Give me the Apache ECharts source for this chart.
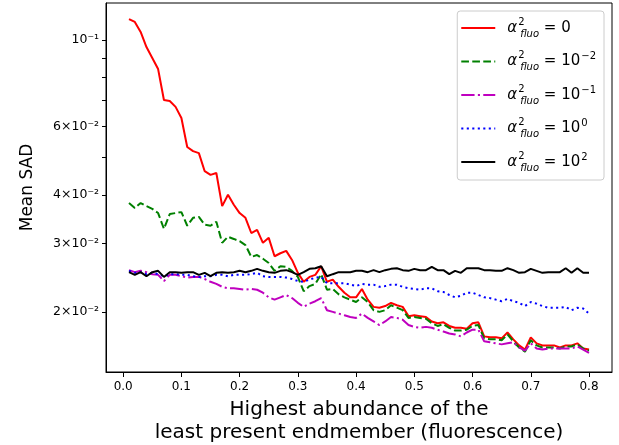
<!DOCTYPE html>
<html>
<head>
<meta charset="utf-8">
<script src="https://cdn.jsdelivr.net/npm/echarts@6/dist/echarts.min.js"></script>
<style>
  html, body { margin: 0; padding: 0; background: #fff; }
  #chart { width: 619px; height: 445px; }
</style>
</head>
<body>
<div id="chart"></div>
<script>
// abscissa: highest abundance of the least present endmember
const abundance = [
  0.01, 0.02, 0.03, 0.04, 0.05, 0.06, 0.07, 0.08, 0.09, 0.10,
  0.11, 0.12, 0.13, 0.14, 0.15, 0.16, 0.17, 0.18, 0.19, 0.20,
  0.21, 0.22, 0.23, 0.24, 0.25, 0.26, 0.27, 0.28, 0.29, 0.30,
  0.31, 0.32, 0.33, 0.34, 0.35, 0.36, 0.37, 0.38, 0.39, 0.40,
  0.41, 0.42, 0.43, 0.44, 0.45, 0.46, 0.47, 0.48, 0.49, 0.50,
  0.51, 0.52, 0.53, 0.54, 0.55, 0.56, 0.57, 0.58, 0.59, 0.60,
  0.61, 0.62, 0.63, 0.64, 0.65, 0.66, 0.67, 0.68, 0.69, 0.70,
  0.71, 0.72, 0.73, 0.74, 0.75, 0.76, 0.77, 0.78, 0.79, 0.80
];

// mean SAD, one array per alpha value
const sadAlpha0 = [
  0.1132, 0.1113, 0.1049, 0.0959, 0.0899, 0.0842, 0.0701, 0.0697, 0.0673, 0.0630,
  0.0531, 0.0518, 0.0512, 0.0460, 0.0450, 0.0455, 0.0374, 0.0400, 0.0377, 0.0359,
  0.0349, 0.0319, 0.0325, 0.0301, 0.0310, 0.0278, 0.0283, 0.0287, 0.0272, 0.0252,
  0.0239, 0.0246, 0.0249, 0.0262, 0.0239, 0.0242, 0.0232, 0.0224, 0.0218, 0.0218,
  0.0229, 0.0215, 0.0206, 0.0205, 0.0207, 0.0211, 0.0208, 0.0206, 0.0195, 0.0196,
  0.0195, 0.0194, 0.0189, 0.0187, 0.0188, 0.0184, 0.0182, 0.0182, 0.0181, 0.0187,
  0.0188, 0.0173, 0.0172, 0.0172, 0.0171, 0.0177, 0.0170, 0.0164, 0.0160, 0.0172,
  0.0166, 0.0164, 0.0164, 0.0164, 0.0162, 0.0164, 0.0164, 0.0166, 0.0161, 0.0160
];
const sadAlpha1e2 = [
  0.0381, 0.0370, 0.0381, 0.0374, 0.0368, 0.0359, 0.0327, 0.0357, 0.0359, 0.0361,
  0.0333, 0.0349, 0.0351, 0.0335, 0.0333, 0.0341, 0.0301, 0.0312, 0.0308, 0.0304,
  0.0297, 0.0277, 0.0280, 0.0274, 0.0267, 0.0255, 0.0262, 0.0261, 0.0255, 0.0246,
  0.0226, 0.0233, 0.0236, 0.0250, 0.0228, 0.0229, 0.0222, 0.0218, 0.0215, 0.0212,
  0.0218, 0.0212, 0.0202, 0.0200, 0.0202, 0.0208, 0.0205, 0.0202, 0.0193, 0.0194,
  0.0193, 0.0192, 0.0187, 0.0184, 0.0186, 0.0182, 0.0179, 0.0179, 0.0180, 0.0184,
  0.0185, 0.0171, 0.0170, 0.0170, 0.0169, 0.0175, 0.0168, 0.0162, 0.0158, 0.0169,
  0.0164, 0.0162, 0.0162, 0.0162, 0.0161, 0.0163, 0.0163, 0.0165, 0.0161, 0.0159
];
const sadAlpha1e1 = [
  0.0256, 0.0253, 0.0255, 0.0253, 0.0250, 0.0249, 0.0240, 0.0249, 0.0249, 0.0247,
  0.0245, 0.0246, 0.0246, 0.0243, 0.0239, 0.0236, 0.0232, 0.0230, 0.0230, 0.0229,
  0.0228, 0.0229, 0.0228, 0.0224, 0.0218, 0.0215, 0.0218, 0.0221, 0.0217, 0.0211,
  0.0206, 0.0210, 0.0213, 0.0217, 0.0202, 0.0200, 0.0198, 0.0196, 0.0194, 0.0193,
  0.0198, 0.0193, 0.0189, 0.0185, 0.0189, 0.0194, 0.0193, 0.0191, 0.0185, 0.0183,
  0.0182, 0.0183, 0.0182, 0.0180, 0.0178, 0.0176, 0.0175, 0.0173, 0.0177, 0.0180,
  0.0180, 0.0168, 0.0167, 0.0166, 0.0165, 0.0166, 0.0167, 0.0162, 0.0159, 0.0166,
  0.0161, 0.0160, 0.0161, 0.0161, 0.0161, 0.0161, 0.0161, 0.0163, 0.0160, 0.0157
];
const sadAlpha1e0 = [
  0.0255, 0.0252, 0.0253, 0.0250, 0.0252, 0.0250, 0.0247, 0.0250, 0.0250, 0.0249,
  0.0249, 0.0247, 0.0246, 0.0247, 0.0247, 0.0249, 0.0249, 0.0247, 0.0249, 0.0249,
  0.0249, 0.0250, 0.0252, 0.0247, 0.0246, 0.0246, 0.0246, 0.0245, 0.0243, 0.0240,
  0.0239, 0.0242, 0.0245, 0.0246, 0.0237, 0.0237, 0.0237, 0.0237, 0.0235, 0.0233,
  0.0236, 0.0235, 0.0235, 0.0232, 0.0233, 0.0235, 0.0235, 0.0232, 0.0230, 0.0229,
  0.0228, 0.0230, 0.0230, 0.0226, 0.0225, 0.0221, 0.0218, 0.0220, 0.0224, 0.0224,
  0.0221, 0.0218, 0.0217, 0.0215, 0.0213, 0.0216, 0.0213, 0.0211, 0.0207, 0.0212,
  0.0210, 0.0207, 0.0205, 0.0205, 0.0205, 0.0206, 0.0202, 0.0205, 0.0204, 0.0198
];
const sadAlpha1e_2 = [
  0.0253, 0.0249, 0.0253, 0.0247, 0.0253, 0.0255, 0.0246, 0.0253, 0.0253, 0.0252,
  0.0253, 0.0253, 0.0249, 0.0252, 0.0247, 0.0252, 0.0253, 0.0252, 0.0253, 0.0255,
  0.0253, 0.0255, 0.0258, 0.0255, 0.0253, 0.0252, 0.0255, 0.0256, 0.0253, 0.0249,
  0.0253, 0.0258, 0.0259, 0.0262, 0.0247, 0.0250, 0.0253, 0.0253, 0.0253, 0.0255,
  0.0255, 0.0253, 0.0256, 0.0253, 0.0256, 0.0258, 0.0259, 0.0256, 0.0255, 0.0258,
  0.0256, 0.0256, 0.0261, 0.0256, 0.0256, 0.0250, 0.0255, 0.0252, 0.0259, 0.0259,
  0.0259, 0.0256, 0.0256, 0.0255, 0.0255, 0.0259, 0.0256, 0.0252, 0.0253, 0.0258,
  0.0255, 0.0252, 0.0253, 0.0253, 0.0253, 0.0259, 0.0252, 0.0259, 0.0252, 0.0252
];

const legendNames = ['0', '10^-2', '10^-1', '10^0', '10^2'];
const xTicks = [0.0, 0.1, 0.2, 0.3, 0.4, 0.5, 0.6, 0.7, 0.8];
const yLabelTicks = [0.02, 0.03, 0.04, 0.06, 0.1];
const yLabelText = ['2×10⁻²', '3×10⁻²', '4×10⁻²', '6×10⁻²', '10⁻¹'];
const yMinorTicks = [0.02, 0.03, 0.04, 0.05, 0.06, 0.07, 0.08, 0.09, 0.1];

const FONT = 'DejaVu Sans';

function pairs(values) {
  return abundance.map((x, i) => [x, values[i]]);
}

function legendLabel(name) {
  // alpha^2_fluo = value, mimicking matplotlib mathtext
  let tail;
  if (name === '0') {
    tail = '{t| = 0}';
  } else {
    const exp = name.split('^')[1].replace('-', '−');
    tail = '{t| = 10}{e|' + exp + '}';
  }
  return '{a|α}{s|2}{f|fluo}' + tail;
}

const chart = echarts.init(document.getElementById('chart'), null, { renderer: 'canvas' });

const lineSeries = [
  { data: sadAlpha0, color: '#ff0000', dash: 'solid' },
  { data: sadAlpha1e2, color: '#008000', dash: [7.7, 3.3] },
  { data: sadAlpha1e1, color: '#bf00bf', dash: [13.3, 3.3, 2.1, 3.3] },
  { data: sadAlpha1e0, color: '#0000ff', dash: [2.1, 3.4] },
  { data: sadAlpha1e_2, color: '#000000', dash: 'solid' }
].map((s, i) => ({
  name: legendNames[i],
  type: 'line',
  data: pairs(s.data),
  symbol: 'none',
  smooth: false,
  animation: false,
  itemStyle: { color: s.color },
  lineStyle: { color: s.color, width: 2, type: s.dash }
}));

const option = {
  animation: false,
  backgroundColor: '#fff',
  textStyle: { fontFamily: FONT },
  grid: {
    left: 106,
    right: 7,
    top: 3,
    bottom: 73,
    show: true,
    borderColor: '#000',
    borderWidth: 1,
    backgroundColor: 'transparent',
    outerBoundsMode: 'none'
  },
  legend: {
    orient: 'vertical',
    right: 15,
    top: 11,
    padding: [5, 8, 6, 3],
    itemWidth: 34,
    itemHeight: 14,
    itemGap: 9.5,
    backgroundColor: '#fff',
    borderColor: '#cccccc',
    borderWidth: 1,
    borderRadius: 3,
    data: legendNames,
    formatter: legendLabel,
    itemStyle: { opacity: 0 },
    textStyle: {
      fontFamily: FONT,
      color: '#000',
      padding: [0, 0, 0, 7],
      rich: {
        a: { fontSize: 15, fontStyle: 'italic', fontFamily: FONT, color: '#000', lineHeight: 24, verticalAlign: 'middle' },
        s: { fontSize: 10, fontFamily: FONT, color: '#000', lineHeight: 10, verticalAlign: 'top', width: 1, padding: [1, 0, 0, 1] },
        f: { fontSize: 10, fontStyle: 'italic', fontFamily: FONT, color: '#000', lineHeight: 10, verticalAlign: 'bottom', padding: [0, 0, 1, 1] },
        t: { fontSize: 15, fontFamily: FONT, color: '#000', lineHeight: 24, verticalAlign: 'middle' },
        e: { fontSize: 10, fontFamily: FONT, color: '#000', lineHeight: 10, verticalAlign: 'top', padding: [2, 0, 0, 1] }
      }
    }
  },
  xAxis: {
    type: 'value',
    min: -0.0295,
    max: 0.8395,
    name: 'Highest abundance of the\nleast present endmember (fluorescence)',
    nameLocation: 'middle',
    nameGap: 26,
    nameTextStyle: { fontFamily: FONT, fontSize: 20, color: '#000', lineHeight: 23 },
    axisLine: { show: true, onZero: false, lineStyle: { color: '#000', width: 1 } },
    axisTick: { show: true, length: 5, customValues: xTicks, lineStyle: { color: '#000', width: 1 } },
    axisLabel: {
      customValues: xTicks,
      margin: 9,
      fontFamily: FONT,
      fontSize: 12,
      color: '#000',
      formatter: v => v.toFixed(1)
    },
    splitLine: { show: false }
  },
  yAxis: {
    type: 'log',
    logBase: 10,
    min: 0.01401,
    max: 0.1245,
    name: 'Mean SAD',
    nameLocation: 'middle',
    nameRotate: 90,
    nameGap: 70,
    nameTextStyle: { fontFamily: FONT, fontSize: 17, color: '#000' },
    axisLine: { show: true, onZero: false, lineStyle: { color: '#000', width: 1 } },
    axisTick: { show: true, length: 4, customValues: yMinorTicks, lineStyle: { color: '#000', width: 1 } },
    axisLabel: {
      customValues: yLabelTicks,
      margin: 7,
      fontFamily: FONT,
      fontSize: 12.5,
      color: '#000',
      formatter: v => {
        const i = yLabelTicks.findIndex(t => Math.abs(t - v) < 1e-9);
        return i >= 0 ? yLabelText[i] : '';
      }
    },
    splitLine: { show: false }
  },
  series: lineSeries
};

chart.setOption(option);
</script>
</body>
</html>
